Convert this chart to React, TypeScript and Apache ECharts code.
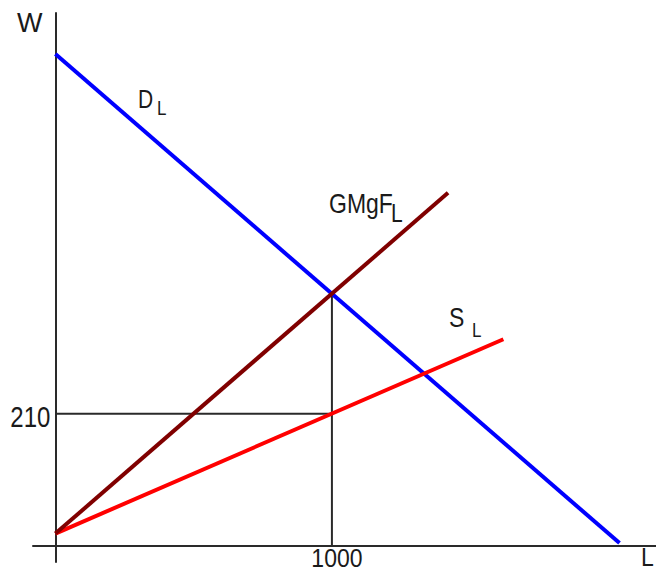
import React, { useEffect, useRef } from "react";
import * as echarts from "echarts";

// Data (L on x, W on y)
const demandLine: number[][] = [[0, 780], [2040, 5]];
const gmgfLine: number[][] = [[0, 20], [1420, 560]];
const supplyLine: number[][] = [[0, 20], [1620, 328]];
const equilibriumL = 1000;
const equilibriumWDemand = 400;
const equilibriumWSupply = 210;
const xTickValues: number[] = [1000];
const yTickValues: number[] = [210];
const xTickLabels: string[] = ["1000"];
const yTickLabels: string[] = ["210"];

const FONT = "'Liberation Sans', Arial, sans-serif";
const TXT = "#1a1a1a";

function txt(text: string, x: number, y: number, size: number, sy: number, align: string = "left") {
  return {
    type: "text",
    x,
    y,
    scaleY: sy,
    z: 10,
    style: {
      text,
      fill: TXT,
      font: `${size}px ${FONT}`,
      textAlign: align,
      textVerticalAlign: "middle",
    },
  };
}

export default function App() {
  const ref = useRef<HTMLDivElement>(null);
  useEffect(() => {
    if (!ref.current) return;
    const chart = echarts.init(ref.current, undefined, { renderer: "svg" });
    const axisLine = { show: true, onZero: true, lineStyle: { color: "#2a2a2a", width: 2 } };
    chart.setOption({
      animation: false,
      backgroundColor: "#ffffff",
      grid: { left: 33, right: 0, top: 13, bottom: 11 },
      xAxis: {
        type: "value",
        min: -81,
        max: 2172,
        axisLine,
        axisTick: { show: false },
        axisLabel: { show: false },
        splitLine: { show: false },
      },
      yAxis: {
        type: "value",
        min: -25,
        max: 845,
        axisLine,
        axisTick: { show: false },
        axisLabel: { show: false },
        splitLine: { show: false },
      },
      series: [
        {
          type: "line",
          data: [[equilibriumL, 0], [equilibriumL, equilibriumWDemand]],
          showSymbol: false,
          lineStyle: { color: "#2a2a2a", width: 2 },
          z: 1,
        },
        {
          type: "line",
          data: [[0, equilibriumWSupply], [equilibriumL, equilibriumWSupply]],
          showSymbol: false,
          lineStyle: { color: "#2a2a2a", width: 2 },
          z: 1,
        },
        {
          name: "DL",
          type: "line",
          data: demandLine,
          showSymbol: false,
          lineStyle: { color: "#0000ff", width: 4 },
          z: 3,
        },
        {
          name: "GMgFL",
          type: "line",
          data: gmgfLine,
          showSymbol: false,
          lineStyle: { color: "#800000", width: 4 },
          z: 4,
        },
        {
          name: "SL",
          type: "line",
          data: supplyLine,
          showSymbol: false,
          lineStyle: { color: "#ff0000", width: 4 },
          z: 3,
        },
      ],
    });

    const graphics: any[] = [];
    xTickValues.forEach((v, i) => {
      const p = chart.convertToPixel({ gridIndex: 0 }, [v, 0]) as number[];
      graphics.push(txt(xTickLabels[i], p[0] + 5, p[1] + 12, 23, 1.1, "center"));
    });
    yTickValues.forEach((v, i) => {
      const p = chart.convertToPixel({ gridIndex: 0 }, [0, v]) as number[];
      graphics.push(txt(yTickLabels[i], p[0] - 5, p[1] + 3, 24, 1.22, "right"));
    });
    graphics.push(txt("W", 17, 23, 27, 1.0));
    graphics.push(txt("L", 641, 557, 23, 1.15));
    graphics.push(txt("D", 138, 99, 21, 1.2));
    graphics.push(txt("L", 157, 107.5, 17, 1.2));
    graphics.push(txt("GMgF", 329, 203, 23, 1.22));
    graphics.push(txt("L", 391, 213, 21, 1.2));
    graphics.push(txt("S", 449, 317, 23, 1.22));
    graphics.push(txt("L", 472, 329.5, 17, 1.2));
    chart.setOption({ graphic: graphics });

    return () => chart.dispose();
  }, []);
  return (
    <div
      ref={ref}
      style={{ position: "fixed", left: 0, top: 0, width: 656, height: 573, background: "#fff" }}
    />
  );
}
